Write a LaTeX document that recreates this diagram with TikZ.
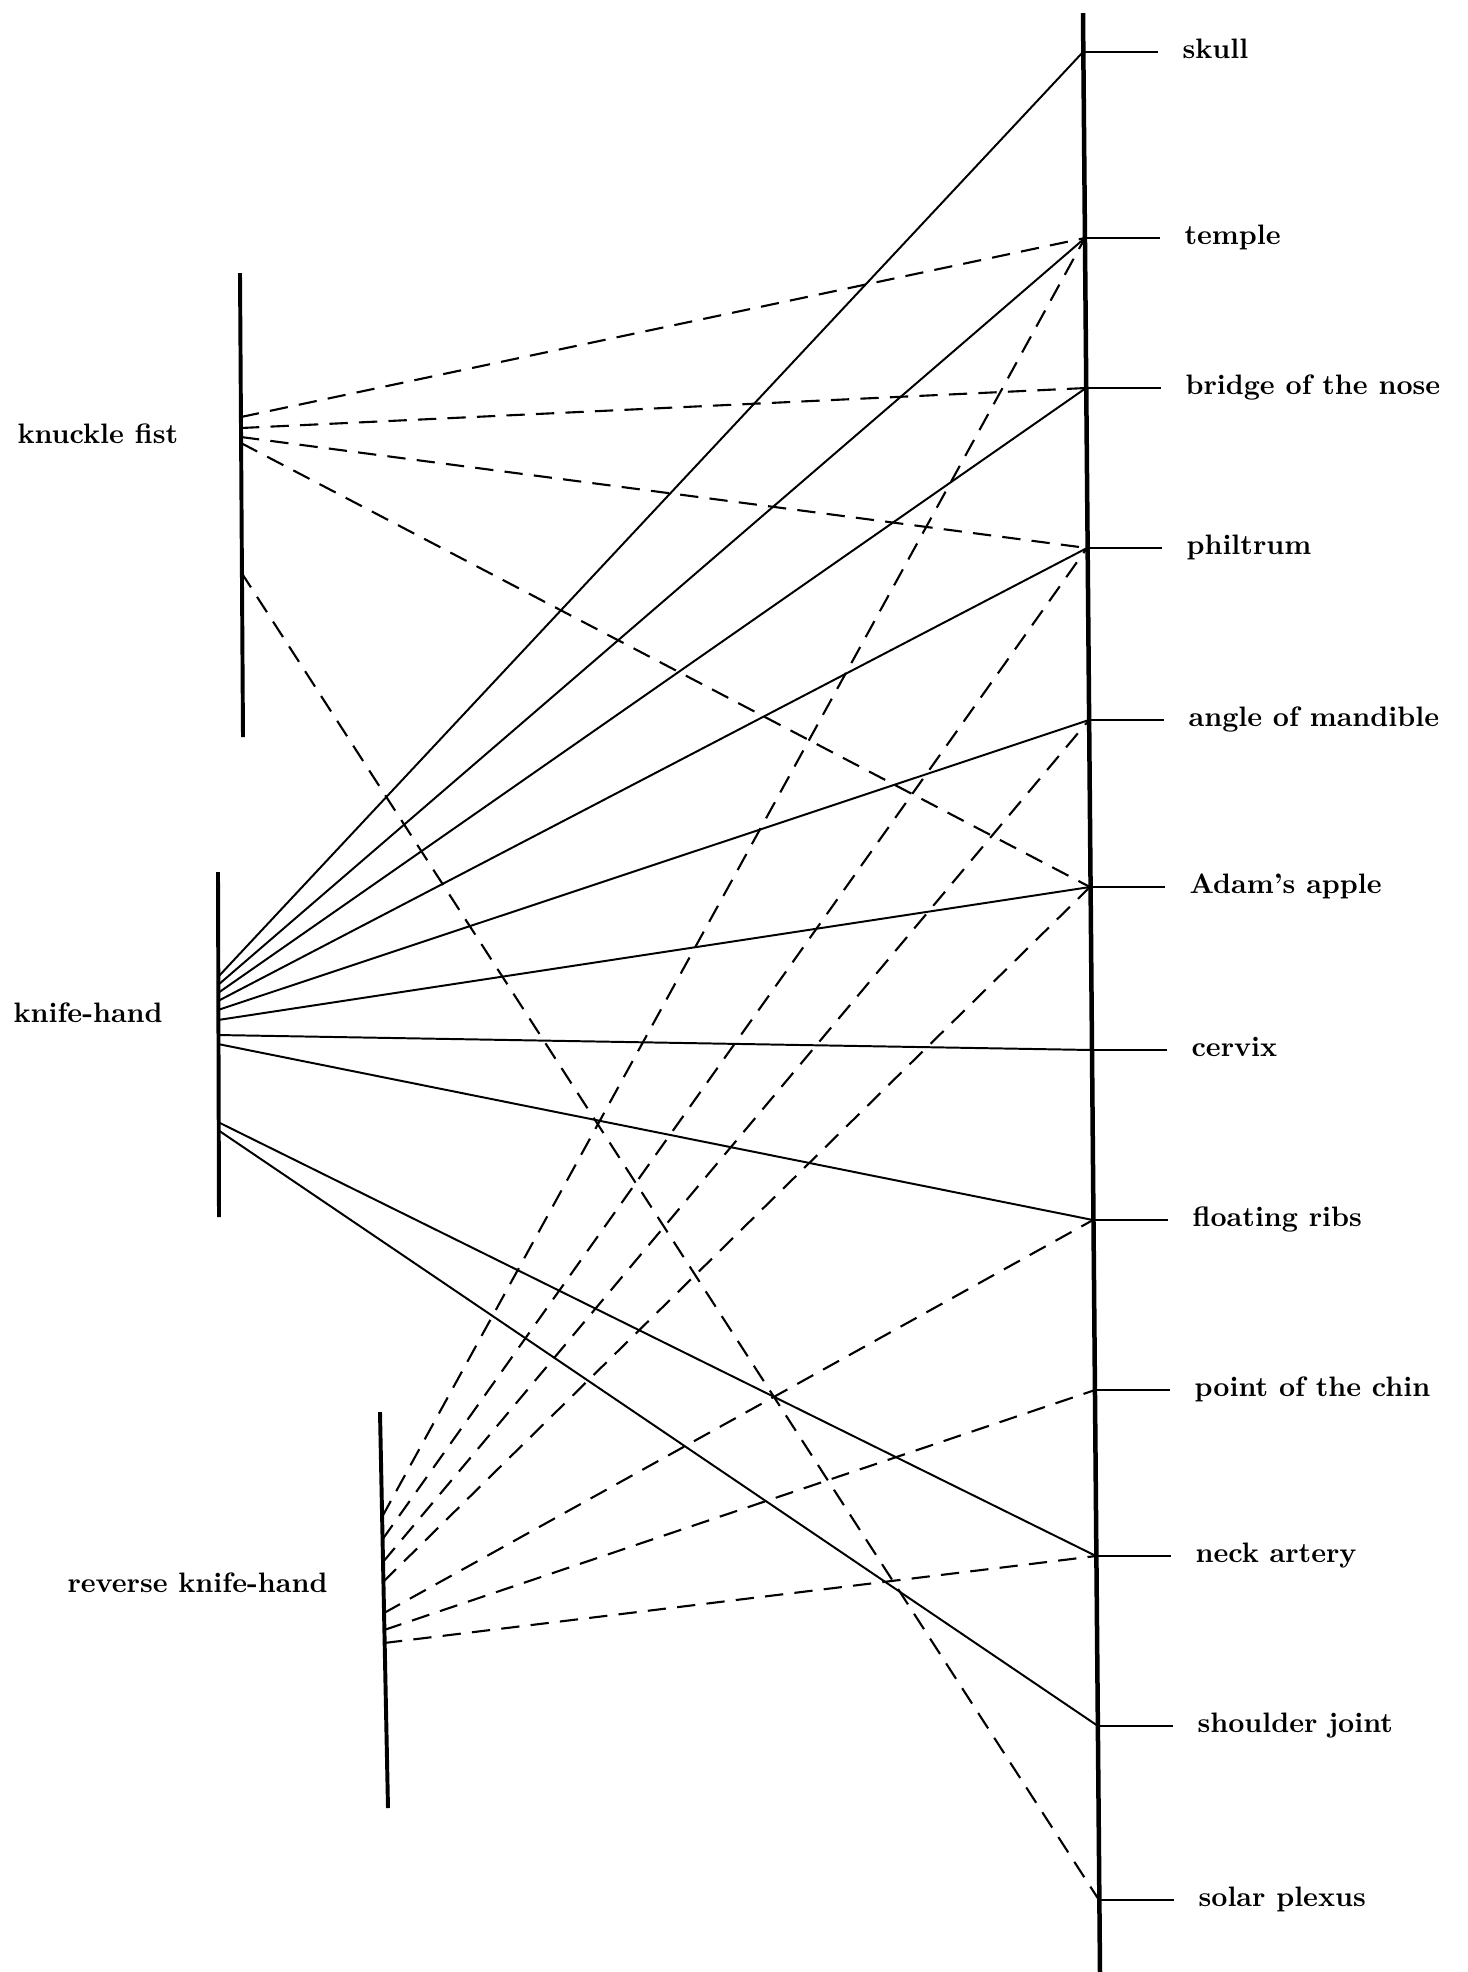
\documentclass[tikz,border=0pt]{standalone}
\usepackage{tikz}
\usetikzlibrary{calc}
\tikzset{
  spine/.style={line width=1.6pt},
  handbar/.style={line width=1.4pt},
  targettick/.style={line width=0.9pt},
  blow/.style={line width=0.7pt},
  altblow/.style={line width=0.75pt, dash pattern=on 6.5pt off 4pt},
  partname/.style={font=\bfseries, anchor=mid west, inner sep=0pt},
  handname/.style={font=\bfseries, anchor=mid west, inner sep=0pt}
}

\begin{document}
\begin{tikzpicture}[x=0.0125cm,y=-0.0125cm]
  \useasboundingbox (0,0) rectangle (1468,1972);

  % Target column
  \coordinate (top) at (1083,13);
  \coordinate (bottom) at (1100,1972);
  \draw[spine] (top) -- (bottom);
  \foreach \tg/\tx/\ty/\tname in {skull/1083/52/skull, temple/1085/238/temple,
      bridge/1086/388/bridge of the nose, philtrum/1087/548/philtrum,
      angle/1089/720/angle of mandible, adam/1090/887/Adam's apple,
      cervix/1092/1050/cervix, floating/1093/1220/floating ribs,
      chin/1095/1390/point of the chin, neck/1096/1556/neck artery,
      shoulder/1098/1726/shoulder joint, solar/1099/1900/solar plexus} {
    \coordinate (\tg) at (\tx,\ty);
    \draw[targettick] (\tg) -- ++(75,0) coordinate (\tg-end);
    \node[partname] (\tg-name) at ($(\tg-end)+(24,0)$) {\tname};
  }

  % Knuckle fist
  \coordinate (kftop) at (240,273);
  \coordinate (kfbot) at (243,737);
  \draw[handbar] (kftop) -- (kfbot);
  \node[handname] (kfname) at (17,437) {knuckle fist};
  \foreach \src/\sy/\tg in {1/417/temple, 2/428/bridge, 3/437/philtrum, 4/443/adam, 5/572/solar} {
    \coordinate (kf\src) at (241,\sy);
    \draw[altblow] (kf\src) -- (\tg);
  }

  % Knife-hand
  \coordinate (khtop) at (218,872);
  \coordinate (khbot) at (219,1217);
  \draw[handbar] (khtop) -- (khbot);
  \node[handname] (khname) at (13,1016) {knife-hand};
  \foreach \src/\sy/\tg in {1/977/skull, 2/985/temple, 3/993/bridge, 4/1001/philtrum, 5/1010/angle,
      6/1020/adam, 7/1035/cervix, 8/1044/floating, 9/1122/neck, 10/1130/shoulder} {
    \coordinate (kh\src) at (218,\sy);
    \draw[blow] (kh\src) -- (\tg);
  }

  % Reverse knife-hand
  \coordinate (rktop) at (380,1412);
  \coordinate (rkbot) at (388,1808);
  \draw[handbar] (rktop) -- (rkbot);
  \node[handname] (rkname) at (67,1586) {reverse knife-hand};
  \foreach \src/\sx/\sy/\tg in {1/382/1517/temple, 2/382/1540/philtrum, 3/383/1562/angle, 4/383/1582/adam,
      5/384/1613/floating, 6/384/1630/chin, 7/384/1643/neck} {
    \coordinate (rk\src) at (\sx,\sy);
    \draw[altblow] (rk\src) -- (\tg);
  }
\end{tikzpicture}
\end{document}
